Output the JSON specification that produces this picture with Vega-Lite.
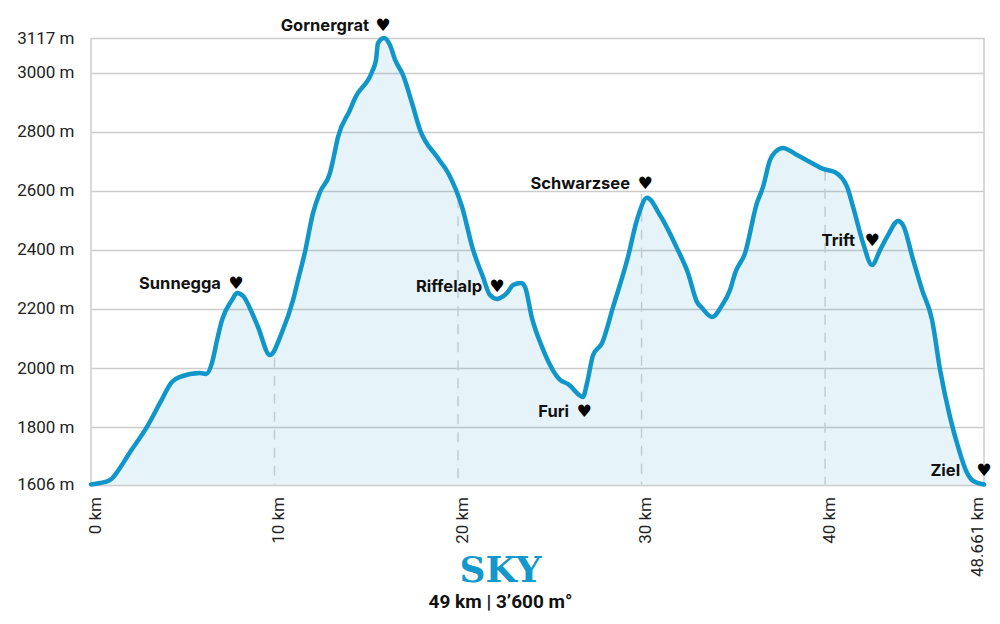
{"$schema":"https://vega.github.io/schema/vega-lite/v6.json","width":893,"height":446.5,"autosize":{"type":"none"},"padding":{"left":91,"top":38,"right":16,"bottom":139.5},"background":"white","config":{"view":{"stroke":null}},
"title":{"text":"SKY","subtitle":"49 km | 3’600 m°","orient":"bottom","anchor":"middle","dx":-37,"offset":-22,"font":"DejaVu Serif","fontSize":36,"fontWeight":"bold","color":"#1398cc","subtitleFont":"Roboto","subtitleFontSize":19,"subtitleFontWeight":"bold","subtitleColor":"#111111","subtitlePadding":3},
"datasets":{
"profile":[{"km":0,"m":1606},{"km":0.49,"m":1611},{"km":0.93,"m":1618},{"km":1.14,"m":1626},{"km":1.42,"m":1648},{"km":2.13,"m":1716},{"km":3.05,"m":1801},{"km":3.76,"m":1882},{"km":4.41,"m":1953},{"km":4.85,"m":1970},{"km":5.94,"m":1983},{"km":6.27,"m":1980},{"km":6.59,"m":2017},{"km":6.87,"m":2095},{"km":7.14,"m":2163},{"km":7.68,"m":2230},{"km":7.96,"m":2254},{"km":8.3,"m":2243},{"km":8.75,"m":2190},{"km":9.1,"m":2139},{"km":9.75,"m":2044},{"km":10.41,"m":2122},{"km":11.01,"m":2230},{"km":11.28,"m":2298},{"km":11.66,"m":2393},{"km":12.1,"m":2525},{"km":12.48,"m":2596},{"km":13.02,"m":2660},{"km":13.19,"m":2704},{"km":13.46,"m":2782},{"km":14.11,"m":2873},{"km":14.39,"m":2914},{"km":15.31,"m":3002},{"km":15.53,"m":3043},{"km":15.64,"m":3100},{"km":15.97,"m":3117},{"km":16.29,"m":3093},{"km":16.57,"m":3043},{"km":17.0,"m":2992},{"km":17.49,"m":2897},{"km":17.93,"m":2806},{"km":18.86,"m":2714},{"km":19.46,"m":2660},{"km":20.22,"m":2545},{"km":20.82,"m":2400},{"km":21.36,"m":2308},{"km":21.74,"m":2247},{"km":22.13,"m":2234},{"km":22.29,"m":2237},{"km":22.67,"m":2254},{"km":23.0,"m":2281},{"km":23.43,"m":2288},{"km":23.65,"m":2274},{"km":24.03,"m":2169},{"km":24.58,"m":2071},{"km":25.56,"m":1960},{"km":26.0,"m":1946},{"km":26.81,"m":1902},{"km":27.03,"m":1949},{"km":27.36,"m":2044},{"km":27.85,"m":2085},{"km":28.45,"m":2207},{"km":29.26,"m":2376},{"km":29.75,"m":2501},{"km":30.3,"m":2576},{"km":31.0,"m":2518},{"km":31.93,"m":2406},{"km":32.53,"m":2322},{"km":33.02,"m":2224},{"km":33.3,"m":2203},{"km":33.84,"m":2173},{"km":34.39,"m":2213},{"km":34.82,"m":2264},{"km":35.1,"m":2322},{"km":35.64,"m":2389},{"km":36.29,"m":2559},{"km":36.62,"m":2613},{"km":37.0,"m":2704},{"km":37.28,"m":2731},{"km":37.71,"m":2745},{"km":38.47,"m":2721},{"km":39.18,"m":2697},{"km":39.89,"m":2674},{"km":40.55,"m":2663},{"km":41.2,"m":2613},{"km":41.53,"m":2545},{"km":42.07,"m":2423},{"km":42.56,"m":2349},{"km":43.0,"m":2400},{"km":43.43,"m":2450},{"km":43.98,"m":2498},{"km":44.25,"m":2484},{"km":44.8,"m":2366},{"km":45.29,"m":2264},{"km":45.83,"m":2163},{"km":46.27,"m":1993},{"km":46.81,"m":1834},{"km":47.25,"m":1733},{"km":47.74,"m":1645},{"km":48.07,"m":1618},{"km":48.661,"m":1606}],
"guides":[{"km":10,"m":2035},{"km":20,"m":2575},{"km":30,"m":2590},{"km":40,"m":2668}],
"edges":[{"km":0},{"km":48.661}],
"stops":[{"name":"Gornergrat","hx":15.91,"lx":15.15,"y":3161},{"name":"Sunnegga","hx":7.9,"lx":7.08,"y":2288},{"name":"Riffelalp","hx":22.12,"lx":21.31,"y":2278},{"name":"Schwarzsee","hx":30.19,"lx":29.37,"y":2626},{"name":"Furi","hx":26.87,"lx":26.05,"y":1855},{"name":"Trift","hx":42.56,"lx":41.63,"y":2433},{"name":"Ziel","hx":48.66,"lx":47.36,"y":1655}]
},
"layer":[
{"data":{"name":"profile"},"mark":{"type":"area","interpolate":"monotone","color":"#0a8fcc","opacity":0.1},
"encoding":{
"x":{"field":"km","type":"quantitative","scale":{"domain":[0,48.661],"nice":false,"zero":false},
"axis":{"title":null,"values":[0,10,20,30,40,48.661],"labelExpr":"datum.value + ' km'","grid":false,"domain":false,"ticks":false,"labelAngle":270,"labelAlign":"right","labelBaseline":{"condition":{"test":"datum.value > 48","value":"bottom"},"value":"top"},"labelOffset":{"condition":{"test":"datum.value > 48","value":2},"value":-4},"labelPadding":12,"labelFont":"Roboto","labelFontSize":17,"labelColor":"#222222","labelOverlap":false,"labelBound":false,"labelFlush":false}},
"y":{"field":"m","type":"quantitative","scale":{"domain":[1606,3117],"nice":false,"zero":false},
"axis":{"title":null,"values":[1606,1800,2000,2200,2400,2600,2800,3000,3117],"labelExpr":"datum.value + ' m'","grid":true,"gridColor":"#cccccc","gridWidth":1.5,"domain":false,"ticks":false,"labelPadding":17,"labelFont":"Roboto","labelFontSize":17,"labelColor":"#222222","labelOverlap":false,"labelBound":false}},
"y2":{"datum":1606}}},
{"data":{"name":"edges"},"mark":{"type":"rule","color":"#cccccc","strokeWidth":1.5},"encoding":{"x":{"field":"km","type":"quantitative"}}},
{"data":{"name":"guides"},"mark":{"type":"rule","color":"#c3ccd1","strokeWidth":1.5,"strokeDash":[10,8]},"encoding":{"x":{"field":"km","type":"quantitative"},"y":{"field":"m","type":"quantitative"},"y2":{"datum":1606}}},
{"data":{"name":"profile"},"mark":{"type":"line","interpolate":"monotone","color":"#1096c9","strokeWidth":4.5,"strokeCap":"round","strokeJoin":"round","clip":false},"encoding":{"x":{"field":"km","type":"quantitative"},"y":{"field":"m","type":"quantitative"}}},
{"data":{"name":"stops"},"mark":{"type":"text","align":"right","baseline":"middle","dy":1,"font":"Inter","fontSize":16.5,"fontWeight":"bold","color":"#111111"},"encoding":{"x":{"field":"lx","type":"quantitative"},"y":{"field":"y","type":"quantitative"},"text":{"field":"name"}}},
{"data":{"name":"stops"},"mark":{"type":"text","align":"center","baseline":"middle","dy":1,"font":"DejaVu Sans","fontSize":17,"color":"#000000","text":"♥"},"encoding":{"x":{"field":"hx","type":"quantitative"},"y":{"field":"y","type":"quantitative"}}}
]}
